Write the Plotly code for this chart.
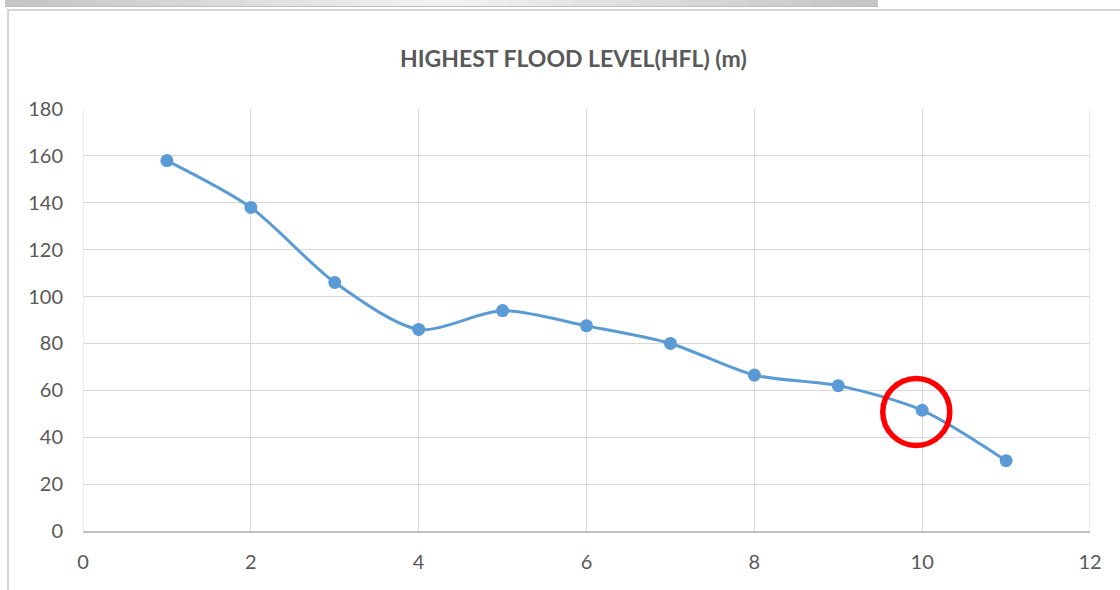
import plotly.graph_objects as go

x_vals = [1, 2, 3, 4, 5, 6, 7, 8, 9, 10, 11]
hfl_vals = [158, 138, 106, 86, 94, 87.5, 80, 66.5, 62, 51.5, 30]
x_ticks = [0, 2, 4, 6, 8, 10, 12]
y_ticks = [0, 20, 40, 60, 80, 100, 120, 140, 160, 180]
title_text = "HIGHEST FLOOD LEVEL(HFL) (m)"
highlight_x = 9.93
highlight_y = 50.8

W, H = 1120, 590
L, R, T, B = 83, 30, 109, 59
pw, ph = W - L - R, H - T - B

def px(x):
    return (x - L) / pw

def py(y):
    return (H - B - y) / ph

fig = go.Figure()
fig.add_trace(go.Scatter(
    x=x_vals, y=hfl_vals, mode="lines+markers",
    line=dict(color="#5b9bd5", width=3, shape="spline", smoothing=0.8),
    marker=dict(color="#5b9bd5", size=13),
    showlegend=False, cliponaxis=False,
))

shapes = []
# top gray gradient bar (screenshot artifact)
n = 40
x0b, x1b = 5, 878
step = (x1b - x0b) / n
for i in range(n):
    a = x0b + step * i
    b = min(x1b, a + step + 1.5)
    t = abs((i + 0.5) / n - 0.5) * 2
    v = int(243 - t * 47)
    shapes.append(dict(type="rect", xref="paper", yref="paper",
                       x0=px(a), x1=px(b), y0=py(7), y1=py(-2),
                       fillcolor=f"rgb({v},{v},{v})", line=dict(width=0), layer="below"))
shapes.append(dict(type="line", xref="paper", yref="paper",
                   x0=px(x0b), x1=px(x1b), y0=py(6.5), y1=py(6.5),
                   line=dict(color="#bdbdbd", width=1)))
# chart frame
shapes.append(dict(type="line", xref="paper", yref="paper",
                   x0=px(7), x1=px(1125), y0=py(10), y1=py(10),
                   line=dict(color="#d4d4d4", width=2)))
shapes.append(dict(type="line", xref="paper", yref="paper",
                   x0=px(8), x1=px(8), y0=py(9), y1=py(595),
                   line=dict(color="#d4d4d4", width=2)))
# red highlight circle
rx = 33.5 / (pw / 12)
ry = 33.5 / (ph / 180)
shapes.append(dict(type="circle", xref="x", yref="y",
                   x0=highlight_x - rx, x1=highlight_x + rx,
                   y0=highlight_y - ry, y1=highlight_y + ry,
                   line=dict(color="#ff0000", width=5.5)))
# vertical edges at x=0 and x=12
shapes.append(dict(type="line", xref="x", yref="y", x0=0, x1=0, y0=0, y1=180,
                   line=dict(color="#d9d9d9", width=1), layer="below"))
shapes.append(dict(type="line", xref="x", yref="y", x0=12, x1=12, y0=0, y1=180,
                   line=dict(color="#d9d9d9", width=1), layer="below"))

fig.update_layout(
    width=W, height=H,
    margin=dict(l=L, r=R, t=T, b=B),
    paper_bgcolor="white", plot_bgcolor="white",
    font=dict(family="Lato, 'Open Sans', sans-serif", color="#595959", size=20),
    shapes=shapes,
    annotations=[dict(text=f"<b>{title_text}</b>", xref="paper", yref="paper",
                      x=px(573), y=py(58), xanchor="center", yanchor="middle",
                      showarrow=False, font=dict(size=23, color="#595959"))],
    xaxis=dict(range=[0, 12], tickvals=x_ticks, showgrid=True, gridcolor="#d9d9d9",
               gridwidth=1, zeroline=False, showline=True, linecolor="#bfbfbf", linewidth=1.5,
               ticks="outside", ticklen=12, tickcolor="rgba(0,0,0,0)"),
    yaxis=dict(range=[0, 180], tickvals=y_ticks, showgrid=True, gridcolor="#d9d9d9",
               gridwidth=1, zeroline=False, showline=False,
               ticks="outside", ticklen=15, tickcolor="rgba(0,0,0,0)"),
)

fig.write_html("out.html", config={"displayModeBar": False},
               post_script="document.body.style.margin='0';document.body.style.overflow='hidden';")
